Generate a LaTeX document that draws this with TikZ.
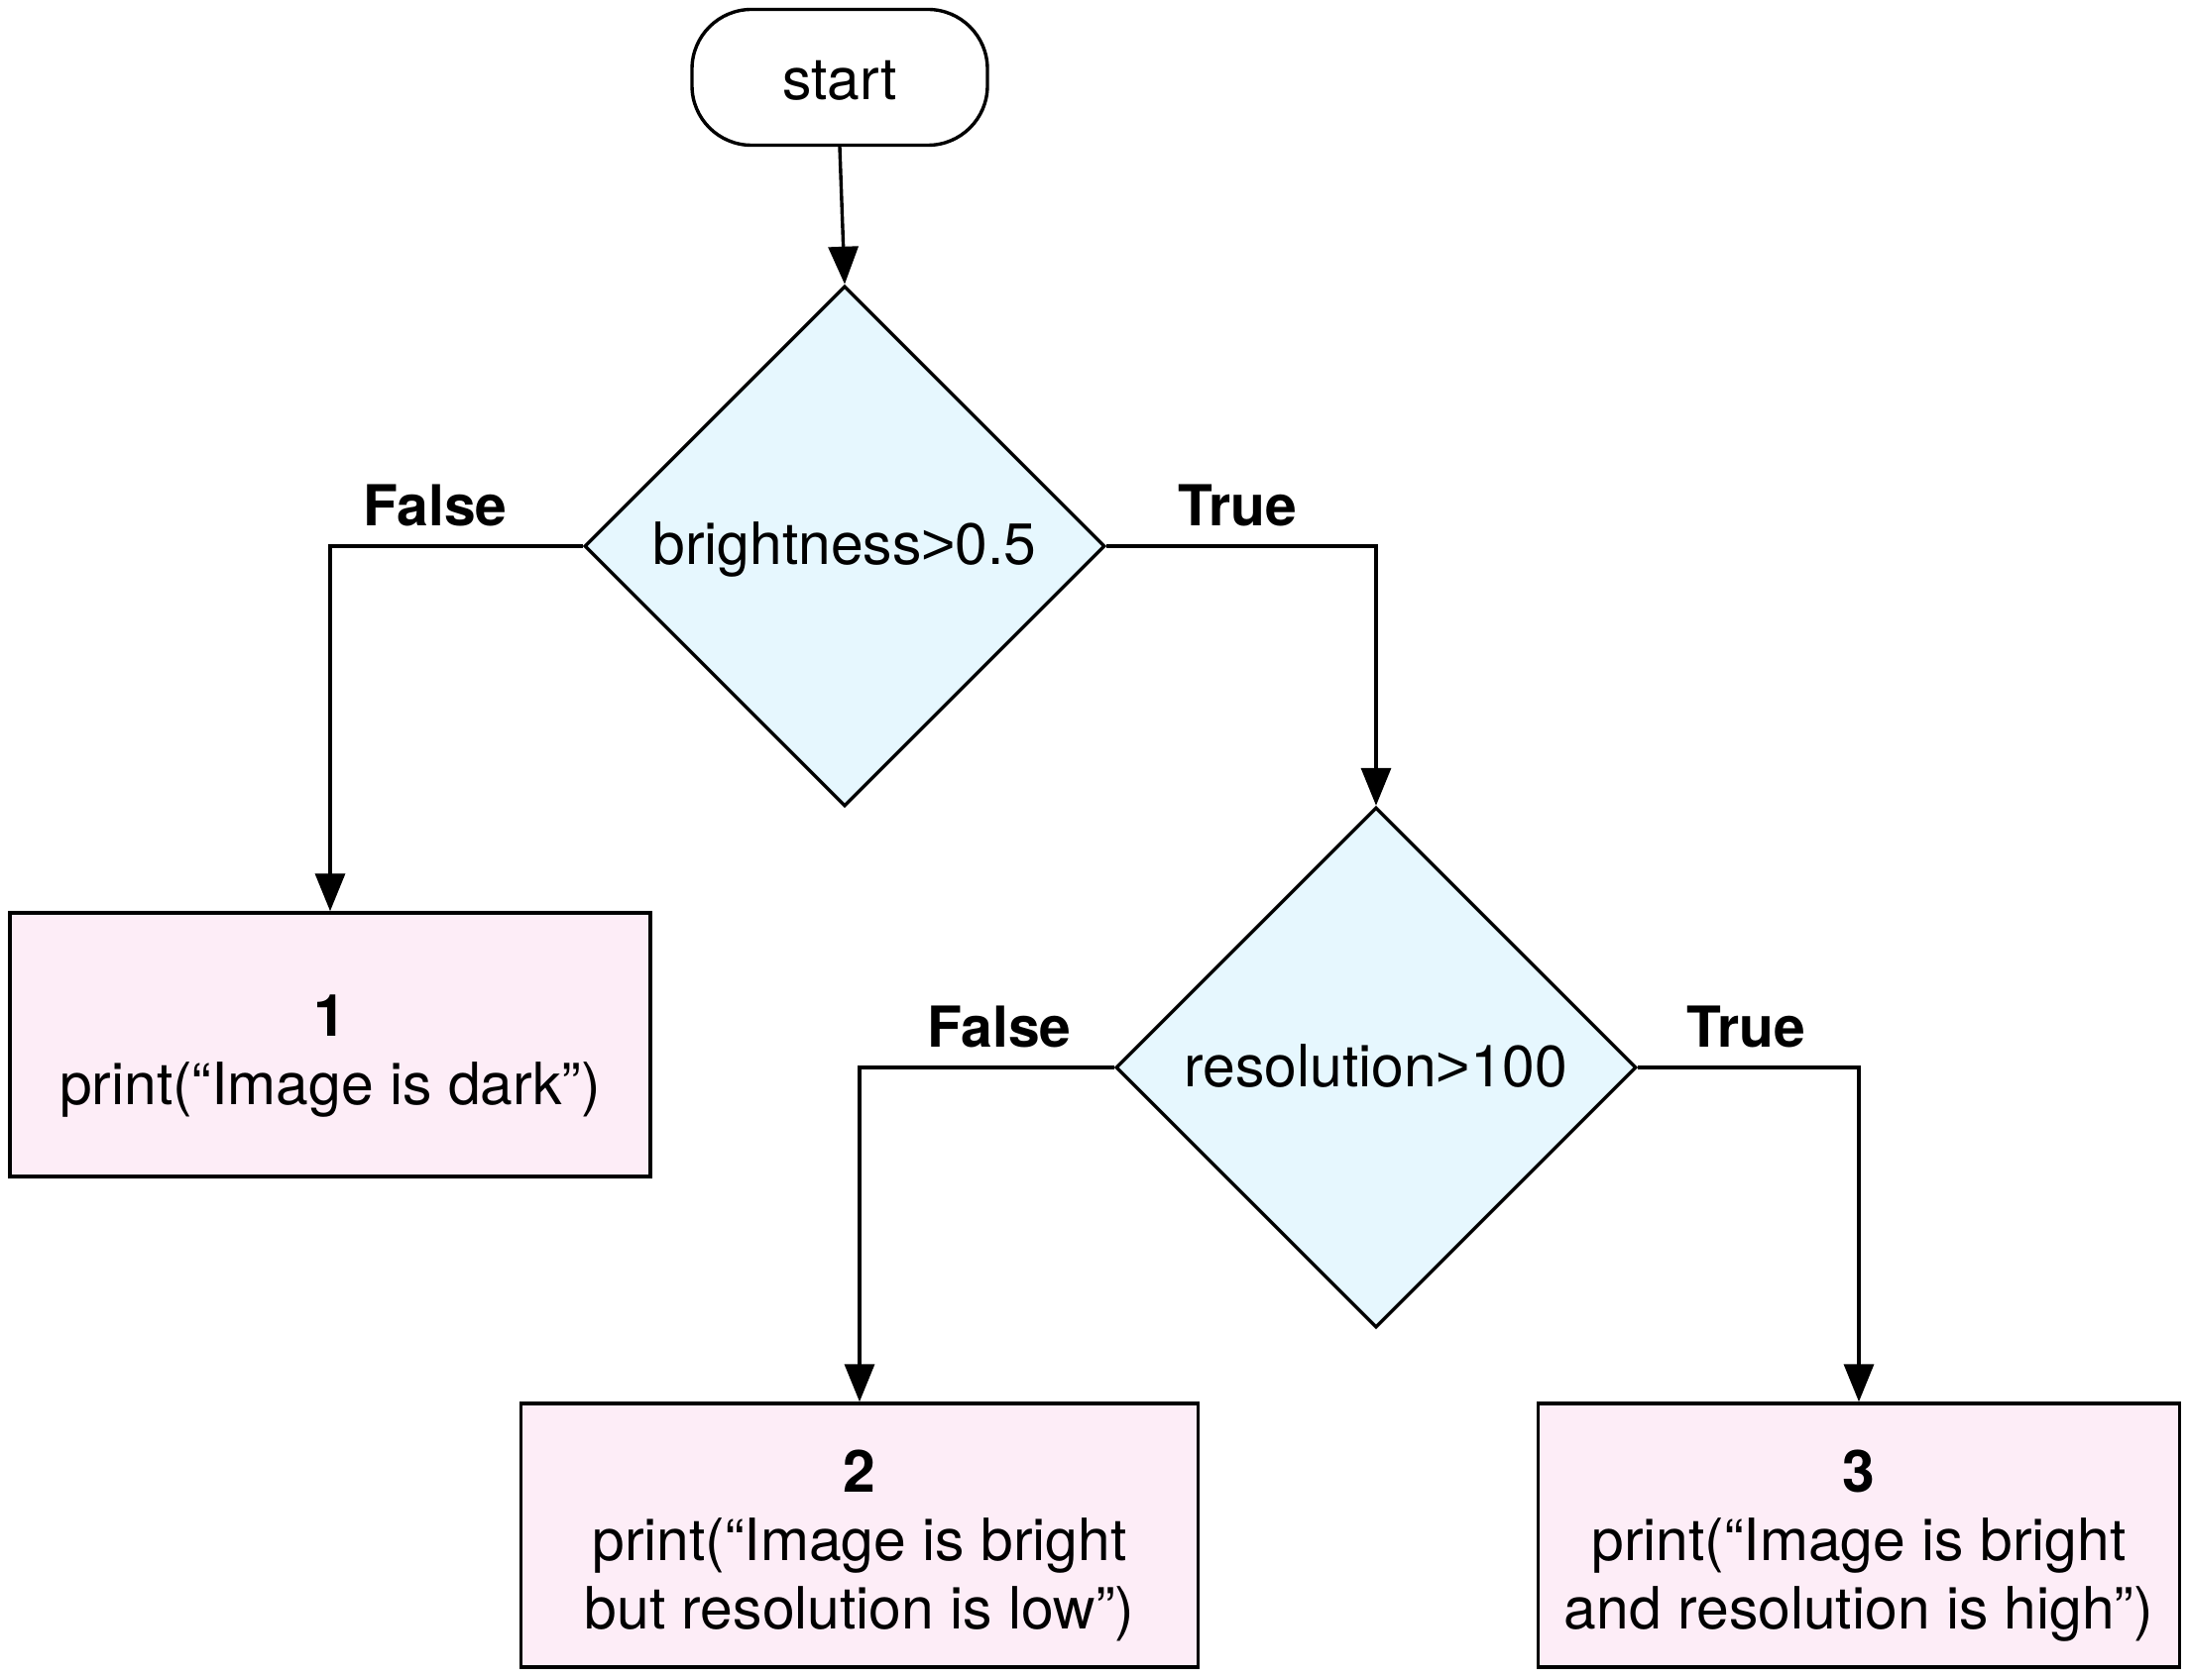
\documentclass[tikz,border=0pt]{standalone}
\usepackage{fontspec}
\setmainfont{TeX Gyre Heros}
\newfontfamily\gtfont{Liberation Sans}
\usetikzlibrary{shapes.geometric,arrows.meta}
\definecolor{dfill}{HTML}{E6F7FE}
\definecolor{bfill}{HTML}{FDEDF7}
\newcommand{\topstrut}{\rule{0pt}{32pt}}
\newcommand{\gtsign}{{\gtfont >}}
\begin{document}
\begin{tikzpicture}[x=0.5pt,y=-0.5pt,line width=1.7pt,
  font=\fontsize{29.4}{34.5}\selectfont,
  startbox/.style={draw,rounded corners=30pt,minimum width=149pt,minimum height=68.5pt,inner sep=0pt,text height=23pt,text depth=0pt},
  decision/.style={draw,diamond,fill=dfill,minimum width=262.5pt,minimum height=262.5pt,inner sep=0pt,text height=21pt,text depth=2pt},
  outbox/.style={draw,fill=bfill,minimum height=133pt,align=center,inner sep=0pt},
  arr/.style={-{Triangle[length=19pt,width=15pt]}},
  lbl/.style={font=\fontsize{28.5}{34}\selectfont\bfseries}]
\useasboundingbox (0,0) rectangle (2208,1695);
\node[startbox] (start) at (847,78) {start};
\node[decision] (d1) at (852,551) {brightness\gtsign0.5};
\node[decision] (d2) at (1388,1077) {resolution\gtsign100};
\node[outbox,minimum width=323pt] (b1) at (333,1054) {\topstrut\textbf{1}\\print(“Image is dark”)};
\node[outbox,minimum width=341.5pt] (b2) at (867,1549) {\topstrut\textbf{2}\\print(“Image is bright\\but resolution is low”)};
\node[outbox,minimum width=323.5pt] (b3) at (1875,1549) {\topstrut\textbf{3}\\print(“Image is bright\\and resolution is high”)};
\draw[arr] (start.south) -- (d1.north);
\draw[arr] (d1.west) -| (b1.north);
\draw[arr] (d1.east) -| (d2.north);
\draw[arr] (d2.west) -| (b2.north);
\draw[arr] (d2.east) -| (b3.north);
\node[lbl] (f1) at (439,510) {False};
\node[lbl] (t1) at (1248,510) {True};
\node[lbl] (f2) at (1008,1036) {False};
\node[lbl] (t2) at (1761,1036) {True};
\end{tikzpicture}
\end{document}
